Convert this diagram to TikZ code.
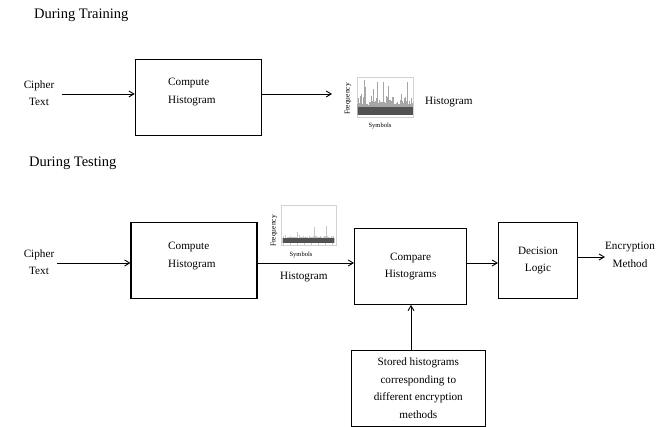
\documentclass[tikz,border=0pt]{standalone}
\usepackage{fontspec}
\setmainfont{Liberation Serif}
\usetikzlibrary{arrows.meta}
\begin{document}
\begin{tikzpicture}[x=1pt,y=-1pt,
  txt/.style={font=\fontsize{11.2}{17.5}\selectfont},
  box/.style={draw,line width=1.1pt,txt,align=center},
  lbl/.style={txt,align=center,inner sep=0pt},
  ttl/.style={font=\fontsize{14.5}{17}\selectfont,anchor=base west,inner sep=0pt},
  arr/.style={draw,line width=0.9pt,-{Straight Barb[length=5pt,width=6pt]}},
  tiny/.style={font=\fontsize{6.5}{7}\selectfont,inner sep=0pt},
  hframe/.style={draw=gray!35,line width=0.4pt,inner sep=0pt},
  spike/.style={gray!70,line width=0.35pt},
  band/.style={fill=black!68,draw=none}]
\useasboundingbox (0,0) rectangle (662,427);

% titles
\node[ttl] (t1) at (34,19) {During Training};
\node[ttl] (t2) at (29,167) {During Testing};

% ---------------- training ----------------
\node[lbl] (cA) at (39,93) {Cipher\\Text};
\node[draw,line width=1.1pt,minimum width=126pt,minimum height=76pt,inner sep=0pt] (boxA) at (198.3,97.3) {};
\node[txt,align=left,anchor=west,inner sep=0pt] (boxAt) at (168,92) {Compute\\Histogram};
\coordinate (cAout) at (62,94);
\coordinate (hAin) at (332,94);
\draw[arr] (cAout) -- (boxA.west |- cAout);
\draw[arr] (boxA.east |- cAout) -- (hAin);

% histogram picture A
\node[hframe,minimum width=56pt,minimum height=40pt] (hA) at (385,97) {};
\pgfmathsetseed{7}
\foreach \i in {0,...,136} {
  \pgfmathsetmacro\xx{357.5+\i*0.4}
  \pgfmathsetmacro\rr{rnd}
  \pgfmathsetmacro\hh{\rr<0.06 ? 26+10*rnd : 10+12*rnd*rnd}
  \draw[spike] (\xx,115) -- (\xx,115-\hh);
}
\fill[band] (357.5,107) rectangle (412.5,115.5);
\node[tiny,rotate=90,font=\fontsize{7.5}{8}\selectfont] (fA) at (348,99) {Frequency};
\node[tiny] (sA) at (380,126) {Symbols};
\node[txt,anchor=base west,inner sep=0pt] (hAl) at (425,104.5) {Histogram};

% ---------------- testing ----------------
\node[lbl] (cB) at (39,262) {Cipher\\Text};
\node[draw,line width=1.1pt,minimum width=126pt,minimum height=76pt,inner sep=0pt] (boxB) at (194,260.3) {};
\node[txt,align=left,anchor=west,inner sep=0pt] (boxBt) at (168,256) {Compute\\Histogram};
\node[box,minimum width=112pt,minimum height=76pt,inner sep=0pt] (cmp) at (410.6,266.3) {Compare\\Histograms};
\node[box,minimum width=79pt,minimum height=76pt,inner sep=0pt] (dec) at (538,260.3) {Decision\\Logic};
\node[lbl] (enc) at (630,255) {Encryption\\Method};
\node[box,minimum width=134pt,minimum height=76pt,inner sep=0pt] (sto) at (418.3,388.4)
  {Stored histograms\\corresponding to\\different encryption\\methods};

\coordinate (cBout) at (57,263);
\draw[arr] (cBout) -- (boxB.west |- cBout);
\draw[arr] (boxB.east |- cBout) -- (cmp.west |- cBout);
\draw[arr] (cmp.east |- cBout) -- (dec.west |- cBout);
\draw[arr] (dec.east |- 0,257) -- (enc.west |- 0,257);
\draw[arr] (sto.north -| 411,0) -- (cmp.south -| 411,0);

% histogram picture B
\node[hframe,minimum width=55pt,minimum height=40pt] (hB) at (308.5,225.5) {};
\foreach \i in {0,...,130} {
  \pgfmathsetmacro\xx{282+\i*0.4}
  \pgfmathsetmacro\rr{rnd}
  \pgfmathsetmacro\hh{\rr<0.05 ? 9+8*rnd : 5+3*rnd*rnd}
  \draw[spike,gray!45] (\xx,243) -- (\xx,243-\hh);
}
\fill[band] (282.5,238.5) rectangle (334,243.5);
\foreach \k in {0,...,7} \draw[gray!40,line width=0.3pt] (283+\k*7,243.5) -- (283+\k*7,245);
\node[tiny,rotate=90,font=\fontsize{7.5}{8}\selectfont] (fB) at (274,231) {Frequency};
\node[tiny] (sB) at (301,254.5) {Symbols};
\node[txt,anchor=base west,inner sep=0pt] (hBl) at (280,279.5) {Histogram};
\end{tikzpicture}
\end{document}
